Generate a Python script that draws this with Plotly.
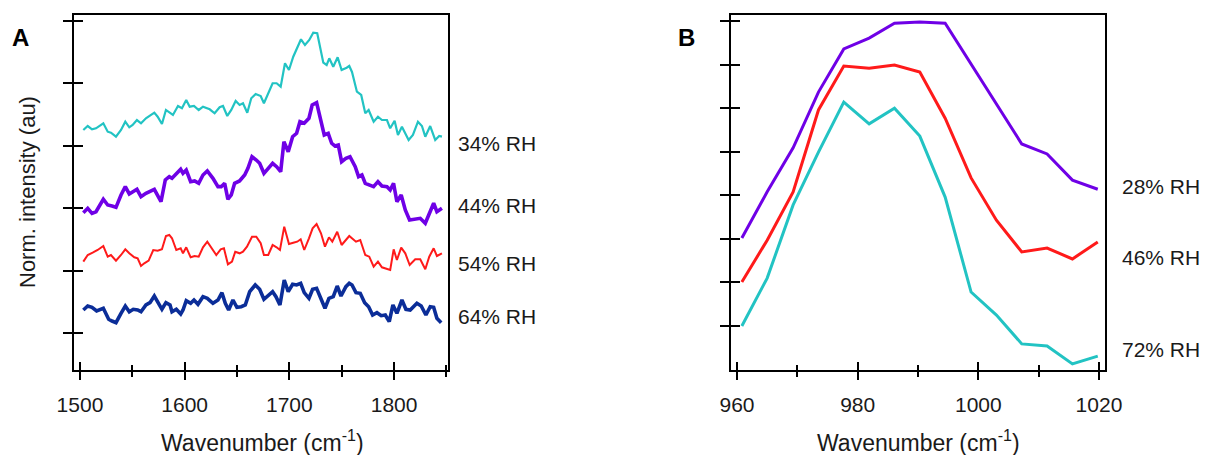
import plotly.graph_objects as go

# ---------------- Panel A data (wavenumber, normalized intensity, offset) ----------------
a34_x = [1503.2, 1507.4, 1511.5, 1515.3, 1522.3, 1526.5, 1529.6, 1534.4, 1539.2, 1543.3, 1547.1, 1550.3,
         1554.4, 1558.3, 1563.0, 1571.0, 1574.2, 1578.3, 1582.1, 1586.0, 1588.8, 1593.6, 1597.4, 1601.5,
         1604.8, 1608.9, 1613.4, 1617.5, 1623.9, 1628.6, 1633.4, 1636.6, 1640.7, 1644.5, 1648.7, 1652.5,
         1655.7, 1659.8, 1663.6, 1667.8, 1672.6, 1675.7, 1679.8, 1684.0, 1687.8, 1691.7, 1695.8, 1699.6,
         1703.7, 1707.5, 1711.1, 1714.9, 1719.0, 1722.8, 1726.6, 1732.4, 1735.6, 1738.1, 1741.9, 1746.1,
         1749.9, 1754.7, 1757.2, 1759.8, 1764.5, 1768.6, 1772.5, 1775.7, 1780.5, 1784.6, 1788.4, 1793.2,
         1796.3, 1800.5, 1803.7, 1807.5, 1813.9, 1818.0, 1822.8, 1826.6, 1829.8, 1834.5, 1839.3, 1843.1,
         1845.7]
a34_y = [3.253, 3.317, 3.264, 3.280, 3.361, 3.226, 3.210, 3.146, 3.253, 3.386, 3.296, 3.333,
         3.413, 3.361, 3.441, 3.531, 3.466, 3.349, 3.574, 3.525, 3.494, 3.638, 3.601, 3.734,
         3.627, 3.638, 3.574, 3.627, 3.585, 3.521, 3.617, 3.638, 3.478, 3.574, 3.718, 3.654,
         3.681, 3.530, 3.761, 3.830, 3.798, 3.681, 3.830, 4.002, 4.002, 3.947, 4.322, 4.215,
         4.428, 4.562, 4.707, 4.615, 4.696, 4.813, 4.803, 4.332, 4.295, 4.402, 4.268, 4.418,
         4.215, 4.252, 4.279, 4.183, 3.867, 3.814, 3.521, 3.574, 3.386, 3.466, 3.413, 3.413,
         3.280, 3.402, 3.173, 3.306, 3.093, 3.173, 3.386, 3.317, 3.146, 3.317, 3.093, 3.157,
         3.146]

a44_x = [1503.2, 1507.4, 1511.5, 1515.3, 1522.3, 1526.5, 1530.6, 1534.4, 1539.2, 1543.3, 1547.1, 1550.3,
         1554.4, 1558.3, 1563.0, 1571.0, 1577.4, 1581.5, 1585.3, 1587.9, 1592.0, 1596.2, 1598.4, 1601.5,
         1605.7, 1609.5, 1613.4, 1617.5, 1621.6, 1627.0, 1631.8, 1634.9, 1638.2, 1641.3, 1644.5, 1647.7,
         1652.4, 1657.3, 1660.4, 1664.3, 1668.4, 1671.6, 1675.7, 1679.8, 1684.0, 1687.8, 1691.7, 1694.8,
         1698.9, 1703.1, 1706.9, 1710.1, 1714.2, 1718.7, 1721.8, 1726.0, 1729.2, 1733.3, 1737.1, 1740.4,
         1743.5, 1746.7, 1749.9, 1754.0, 1757.9, 1762.9, 1766.1, 1769.3, 1772.5, 1777.2, 1780.4, 1784.6,
         1788.4, 1793.2, 1796.3, 1799.5, 1802.7, 1806.8, 1810.7, 1814.8, 1820.2, 1825.0, 1829.8, 1833.6,
         1837.8, 1840.9, 1845.7]
a44_y = [1.928, 1.998, 1.918, 1.944, 2.143, 2.051, 2.035, 2.014, 2.212, 2.345, 2.228, 2.264,
         2.303, 2.184, 2.239, 2.303, 2.104, 2.452, 2.505, 2.479, 2.548, 2.623, 2.559, 2.612,
         2.425, 2.436, 2.399, 2.532, 2.596, 2.479, 2.345, 2.345, 2.399, 2.143, 2.212, 2.399,
         2.436, 2.532, 2.639, 2.825, 2.772, 2.720, 2.559, 2.639, 2.720, 2.665, 2.585, 3.066,
         2.905, 3.146, 3.200, 3.386, 3.361, 3.441, 3.654, 3.691, 3.466, 3.173, 3.200, 3.040,
         2.997, 3.013, 2.745, 2.800, 2.825, 2.665, 2.505, 2.532, 2.399, 2.372, 2.345, 2.425,
         2.356, 2.345, 2.292, 2.399, 2.104, 2.212, 1.971, 1.811, 1.822, 1.838, 1.758, 1.918,
         2.079, 1.944, 1.998]

a54_x = [1503.2, 1507.4, 1512.1, 1516.9, 1522.3, 1526.5, 1529.6, 1534.4, 1539.2, 1543.3, 1547.1, 1551.9,
         1555.1, 1558.3, 1561.4, 1565.6, 1570.0, 1574.2, 1578.3, 1582.1, 1585.3, 1587.9, 1592.0, 1596.2,
         1598.4, 1601.5, 1605.7, 1609.5, 1613.4, 1617.5, 1621.6, 1626.1, 1630.2, 1634.4, 1637.5, 1641.3,
         1645.2, 1648.3, 1652.5, 1655.7, 1659.5, 1664.3, 1668.4, 1672.6, 1675.7, 1679.8, 1684.0, 1687.8,
         1691.0, 1695.1, 1699.6, 1703.7, 1707.5, 1710.8, 1714.2, 1718.7, 1722.2, 1726.0, 1730.2, 1734.0,
         1737.8, 1741.0, 1745.7, 1749.9, 1754.0, 1757.2, 1763.6, 1767.7, 1772.5, 1776.3, 1780.5, 1784.6,
         1788.4, 1793.2, 1796.3, 1799.6, 1802.7, 1806.8, 1810.7, 1814.9, 1820.2, 1825.0, 1829.8, 1833.6,
         1837.8, 1840.9, 1845.7]
a54_y = [1.143, 1.250, 1.287, 1.330, 1.394, 1.223, 1.250, 1.159, 1.250, 1.341, 1.277, 1.213,
         1.197, 1.074, 1.117, 1.159, 1.330, 1.319, 1.341, 1.554, 1.571, 1.518, 1.330, 1.357,
         1.277, 1.373, 1.213, 1.234, 1.223, 1.373, 1.463, 1.357, 1.250, 1.341, 1.357, 1.101,
         1.143, 1.303, 1.277, 1.303, 1.383, 1.543, 1.543, 1.438, 1.250, 1.250, 1.410, 1.373,
         1.330, 1.704, 1.426, 1.447, 1.463, 1.502, 1.330, 1.518, 1.678, 1.747, 1.598, 1.383,
         1.534, 1.463, 1.623, 1.410, 1.490, 1.554, 1.463, 1.490, 1.250, 1.223, 1.063, 1.143,
         1.053, 1.021, 1.010, 1.341, 1.170, 1.367, 1.277, 1.090, 1.181, 1.181, 1.021, 1.223,
         1.357, 1.234, 1.277]

a64_x = [1503.2, 1507.4, 1511.5, 1515.9, 1522.3, 1527.4, 1530.6, 1534.4, 1539.2, 1543.3, 1547.1, 1550.9,
         1555.1, 1558.3, 1563.0, 1566.9, 1571.0, 1575.2, 1578.3, 1582.1, 1586.0, 1587.9, 1592.0, 1596.2,
         1598.4, 1601.5, 1605.7, 1608.9, 1612.7, 1617.5, 1621.6, 1627.0, 1631.8, 1635.6, 1638.8, 1642.0,
         1646.1, 1649.9, 1654.0, 1657.9, 1662.1, 1667.4, 1671.6, 1675.7, 1679.8, 1684.0, 1687.2, 1691.0,
         1695.1, 1698.9, 1703.1, 1706.9, 1710.8, 1714.2, 1718.7, 1722.2, 1726.0, 1730.2, 1734.0, 1737.8,
         1741.9, 1745.7, 1749.3, 1754.0, 1757.2, 1759.8, 1763.6, 1767.7, 1771.9, 1775.7, 1779.5, 1783.6,
         1787.7, 1791.6, 1795.4, 1798.9, 1802.7, 1807.5, 1811.3, 1815.4, 1821.8, 1825.9, 1830.4, 1834.5,
         1837.8, 1840.9, 1845.0]
a64_y = [0.369, 0.433, 0.412, 0.353, 0.396, 0.220, 0.192, 0.165, 0.316, 0.433, 0.341, 0.380,
         0.369, 0.341, 0.449, 0.486, 0.593, 0.476, 0.380, 0.486, 0.449, 0.341, 0.380, 0.304,
         0.369, 0.518, 0.476, 0.529, 0.460, 0.582, 0.556, 0.476, 0.529, 0.646, 0.476, 0.369,
         0.529, 0.412, 0.421, 0.449, 0.662, 0.769, 0.700, 0.540, 0.609, 0.662, 0.582, 0.449,
         0.849, 0.662, 0.780, 0.769, 0.796, 0.646, 0.556, 0.700, 0.716, 0.529, 0.396, 0.556,
         0.582, 0.753, 0.593, 0.742, 0.796, 0.769, 0.646, 0.636, 0.486, 0.421, 0.288, 0.325,
         0.277, 0.288, 0.181, 0.449, 0.316, 0.529, 0.380, 0.369, 0.476, 0.433, 0.288, 0.421,
         0.412, 0.236, 0.165]

a_labels = ["34% RH", "44% RH", "54% RH", "64% RH"]
a_label_y = [3.03, 2.05, 1.12, 0.26]
a_xticks = [1500, 1600, 1700, 1800]

# ---------------- Panel B data ----------------
b_x = [960.8, 965.0, 969.3, 973.5, 977.7, 981.9, 986.1, 990.3, 994.5, 998.8, 1003.0, 1007.2, 1011.4, 1015.6, 1019.8]
b28_y = [2.02, 3.08, 4.09, 5.37, 6.36, 6.61, 6.95, 6.98, 6.95, 6.01, 5.10, 4.18, 3.95, 3.35, 3.14]
b46_y = [1.01, 1.97, 3.08, 4.96, 5.97, 5.92, 5.99, 5.83, 4.77, 3.40, 2.43, 1.70, 1.79, 1.54, 1.93]
b72_y = [0.00, 1.10, 2.78, 3.99, 5.14, 4.64, 5.00, 4.36, 2.96, 0.78, 0.25, -0.41, -0.46, -0.87, -0.69]
b_labels = ["28% RH", "46% RH", "72% RH"]
b_label_y = [3.21, 1.58, -0.53]
b_xticks = [960, 980, 1000, 1020]

CYAN = "#22c3c3"
PURPLE = "#6f00e6"
RED = "#ff1a1a"
BLUE = "#0b2d98"
FONT = "Liberation Sans, Arial, sans-serif"
TXT = "#1a1a1a"

W, H = 1208, 455
OFF = 8  # page body margin offset compensation

def px_x(p):
    return (p - OFF) / W

def px_y(p):
    return 1 - (p - OFF) / H

fig = go.Figure()
# panel A: the 64% RH trace sits on the overlay axes (identical ranges) so those axes are drawn
for xs, ys, c, w, xa, ya in [(a34_x, a34_y, CYAN, 2.2, "x", "y"), (a44_x, a44_y, PURPLE, 3.6, "x", "y"),
                             (a54_x, a54_y, RED, 2.0, "x", "y"), (a64_x, a64_y, BLUE, 3.6, "x3", "y3")]:
    fig.add_trace(go.Scatter(x=xs, y=ys, mode="lines", line=dict(color=c, width=w),
                             xaxis=xa, yaxis=ya, showlegend=False, hoverinfo="skip"))
for ys, c, xa, ya in [(b72_y, CYAN, "x2", "y2"), (b46_y, RED, "x4", "y4"), (b28_y, PURPLE, "x4", "y4")]:
    fig.add_trace(go.Scatter(x=b_x, y=ys, mode="lines", line=dict(color=c, width=3),
                             xaxis=xa, yaxis=ya, showlegend=False, hoverinfo="skip"))

YDOM = [px_y(370), px_y(15)]
AX_DOM = [px_x(74), px_x(448)]
BX_DOM = [px_x(731), px_x(1105)]
A_XR = [1494.3, 1851.5]
A_YR = [-0.593, 5.096]
B_XR = [959.0, 1021.0]
B_YR = [-1.01, 7.14]

def xax(dom, rng, tv, minor_dt, anchor, ticks, labels, overlay=None):
    d = dict(domain=dom, range=rng, anchor=anchor, tickmode="array", tickvals=tv,
             ticks=ticks, ticklen=8, tickwidth=2, tickcolor="black", automargin=False,
             minor=dict(dtick=minor_dt, tick0=tv[0], ticks=ticks, ticklen=5, tickwidth=2,
                        tickcolor="black", showgrid=False),
             showgrid=False, zeroline=False, fixedrange=True)
    if labels:
        d.update(showline=True, linewidth=2, linecolor="black", mirror=True,
                 showticklabels=True, tickfont=dict(family=FONT, size=21, color=TXT),
                 ticklabelstandoff=7)
    else:
        d.update(showline=False, showticklabels=False)
    if overlay:
        d.update(overlaying=overlay)
    return d

def yax(dom, rng, tv, anchor, ticks, main, overlay=None):
    d = dict(domain=dom, range=rng, anchor=anchor, tickmode="array", tickvals=tv,
             ticks=ticks, ticklen=9, tickwidth=2, tickcolor="black", automargin=False,
             showgrid=False, zeroline=False, showticklabels=False, fixedrange=True)
    if main:
        d.update(showline=True, linewidth=2, linecolor="black", mirror=True)
    else:
        d.update(showline=False)
    if overlay:
        d.update(overlaying=overlay)
    return d

fig.update_layout(
    template="none",
    width=W, height=H, autosize=False,
    margin=dict(l=0, r=0, t=0, b=0, pad=0, autoexpand=False),
    paper_bgcolor="white", plot_bgcolor="rgba(0,0,0,0)",
    xaxis=xax(AX_DOM, A_XR, a_xticks, 50, "y", "outside", True),
    yaxis=yax(YDOM, A_YR, [0, 1, 2, 3, 4, 5], "x", "outside", True),
    xaxis2=xax(BX_DOM, B_XR, b_xticks, 10, "y2", "outside", True),
    yaxis2=yax(YDOM, B_YR, [0, 1, 2, 3, 4, 5, 6, 7], "x2", "outside", True),
    xaxis3=xax(AX_DOM, A_XR, a_xticks, 50, "y", "inside", False, overlay="x"),
    yaxis3=yax(YDOM, A_YR, [0, 1, 2, 3, 4, 5], "x", "inside", False, overlay="y"),
    xaxis4=xax(BX_DOM, B_XR, b_xticks, 10, "y2", "inside", False, overlay="x2"),
    yaxis4=yax(YDOM, B_YR, [0, 1, 2, 3, 4, 5, 6, 7], "x2", "inside", False, overlay="y2"),
)

ann = []
for t, yv in zip(a_labels, a_label_y):
    ann.append(dict(text=t, x=1 + 8 / 374, xref="x domain", y=yv, yref="y", xanchor="left",
                    yanchor="middle", showarrow=False, font=dict(family=FONT, size=21, color=TXT)))
for t, yv in zip(b_labels, b_label_y):
    ann.append(dict(text=t, x=1 + 15 / 374, xref="x2 domain", y=yv, yref="y2", xanchor="left",
                    yanchor="middle", showarrow=False, font=dict(family=FONT, size=21, color=TXT)))
ann.append(dict(text="<b>A</b>", x=px_x(20), y=px_y(38), xref="paper", yref="paper",
                xanchor="center", yanchor="middle", showarrow=False,
                font=dict(family=FONT, size=24, color="black")))
ann.append(dict(text="<b>B</b>", x=px_x(686), y=px_y(38), xref="paper", yref="paper",
                xanchor="center", yanchor="middle", showarrow=False,
                font=dict(family=FONT, size=24, color="black")))
for cx in [262, 918]:
    ann.append(dict(text="Wavenumber (cm<sup>-1</sup>)", x=px_x(cx), y=px_y(441),
                    xref="paper", yref="paper", xanchor="center", yanchor="middle",
                    showarrow=False, font=dict(family=FONT, size=23, color=TXT)))
ann.append(dict(text="Norm. intensity (au)", x=px_x(27), y=px_y(192), xref="paper",
                yref="paper", xanchor="center", yanchor="middle", textangle=-90,
                showarrow=False, font=dict(family=FONT, size=22, color=TXT)))
fig.update_layout(annotations=ann)

fig.write_html("out.html")
